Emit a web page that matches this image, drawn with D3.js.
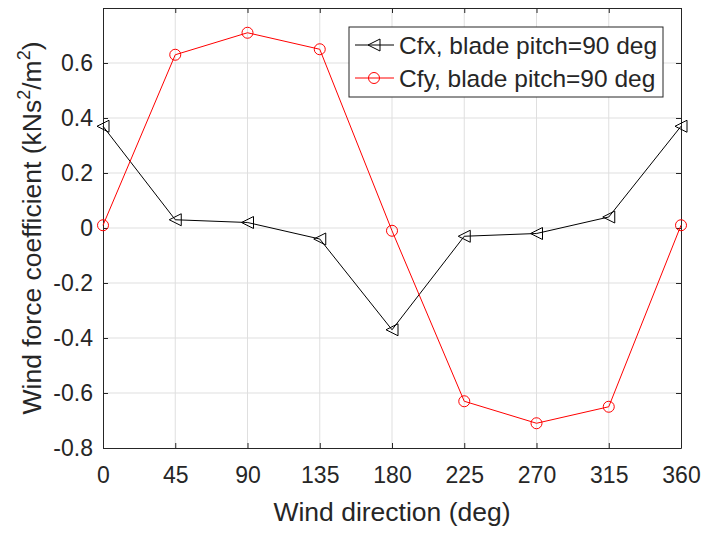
<!DOCTYPE html>
<html>
<head>
<meta charset="utf-8">
<script src="https://cdn.jsdelivr.net/npm/d3@7"></script>
<style>
  body { margin: 0; background: #fff; }
  text { font-family: "Liberation Sans", Arial, Helvetica, sans-serif; fill: #262626; }
  .grid line { stroke: #dfdfdf; stroke-width: 1; }
</style>
</head>
<body>
<svg id="mainFrame"></svg>
<script>
const directions = [0, 45, 90, 135, 180, 225, 270, 315, 360]
const cfxValues = [0.37, 0.03, 0.02, -0.04, -0.37, -0.03, -0.02, 0.04, 0.37]
const cfyValues = [0.01, 0.63, 0.71, 0.65, -0.01, -0.63, -0.71, -0.65, 0.01]
const yTicks = [-0.8, -0.6, -0.4, -0.2, 0, 0.2, 0.4, 0.6]
const seriesNames = ['Cfx, blade pitch=90 deg', 'Cfy, blade pitch=90 deg']

const width = 705, height = 533
const svg = d3.select('#mainFrame')
    .attr('width', width)
    .attr('height', height)

const margin = { top: 8, right: 24, bottom: 85, left: 103 }
const innerW = width - margin.left - margin.right
const innerH = height - margin.top - margin.bottom

const g = svg.append('g')
    .attr('transform', `translate(${margin.left},${margin.top})`)

const xScale = d3.scaleLinear().domain([0, 360]).range([0, innerW])
const yScale = d3.scaleLinear().domain([-0.8, 0.8]).range([innerH, 0])

// grid
const grid = g.append('g').attr('class', 'grid')
grid.selectAll('.gx').data(directions.slice(1, -1)).join('line')
    .attr('x1', d => xScale(d)).attr('x2', d => xScale(d))
    .attr('y1', 0).attr('y2', innerH)
grid.selectAll('.gy').data(yTicks.slice(1)).join('line')
    .attr('class', 'gy')
    .attr('x1', 0).attr('x2', innerW)
    .attr('y1', d => yScale(d)).attr('y2', d => yScale(d))

// axes (ticks pointing in, MATLAB style)
const fmt = d => d === 0 ? '0' : d3.format('.1f')(d).replace('−', '-')
const styleAxis = sel => {
    sel.selectAll('.domain').attr('stroke', '#262626')
    sel.selectAll('.tick line').attr('stroke', '#262626')
    sel.selectAll('.tick text').style('font-size', '23px').attr('fill', '#262626')
}
g.append('g').attr('transform', `translate(0,${innerH})`)
    .call(d3.axisBottom(xScale).tickValues(directions).tickSize(-5).tickPadding(19).tickSizeOuter(0))
    .call(styleAxis)
g.append('g')
    .call(d3.axisTop(xScale).tickValues(directions).tickSize(-5).tickFormat('').tickSizeOuter(0))
    .call(styleAxis)
g.append('g')
    .call(d3.axisLeft(yScale).tickValues(yTicks).tickSize(-5).tickPadding(10).tickFormat(fmt).tickSizeOuter(0))
    .call(styleAxis)
g.append('g').attr('transform', `translate(${innerW},0)`)
    .call(d3.axisRight(yScale).tickValues(yTicks).tickSize(-5).tickFormat('').tickSizeOuter(0))
    .call(styleAxis)

// lines
const line = d3.line().x((d, i) => xScale(directions[i])).y(d => yScale(d))
const triangle = 'M-6,0L6,-6L6,6Z'

g.append('path').datum(cfxValues)
    .attr('d', line).attr('fill', 'none').attr('stroke', '#000').attr('stroke-width', 1)
g.append('path').datum(cfyValues)
    .attr('d', line).attr('fill', 'none').attr('stroke', '#ff0000').attr('stroke-width', 1)

g.selectAll('.mx').data(cfxValues).join('path')
    .attr('class', 'mx')
    .attr('transform', (d, i) => `translate(${xScale(directions[i])},${yScale(d)})`)
    .attr('d', triangle).attr('fill', 'none').attr('stroke', '#000')
g.selectAll('.my').data(cfyValues).join('circle')
    .attr('class', 'my')
    .attr('cx', (d, i) => xScale(directions[i])).attr('cy', d => yScale(d))
    .attr('r', 5.5).attr('fill', 'none').attr('stroke', '#ff0000')

// legend
const legend = svg.append('g').attr('transform', 'translate(349,27)')
legend.append('rect').attr('width', 314).attr('height', 70)
    .attr('fill', '#fff').attr('stroke', '#262626').attr('stroke-width', 1)
const legendColors = ['#000', '#ff0000']
seriesNames.forEach((name, i) => {
    const y = 18 + i * 33
    legend.append('line').attr('x1', 6).attr('x2', 45).attr('y1', y).attr('y2', y)
        .attr('stroke', legendColors[i])
    if (i === 0) {
        legend.append('path').attr('d', triangle)
            .attr('transform', `translate(25,${y})`)
            .attr('fill', 'none').attr('stroke', legendColors[i])
    } else {
        legend.append('circle').attr('cx', 25).attr('cy', y).attr('r', 5.5)
            .attr('fill', 'none').attr('stroke', legendColors[i])
    }
    legend.append('text').attr('x', 50).attr('y', y + 8.5)
        .style('font-size', '24.5px').attr('fill', '#000').text(name)
})

// axis titles
svg.append('text')
    .attr('x', margin.left + innerW / 2).attr('y', 521)
    .attr('text-anchor', 'middle').style('font-size', '26.5px')
    .text('Wind direction (deg)')

const yTitle = svg.append('text')
    .attr('transform', `translate(41,${margin.top + innerH / 2}) rotate(-90)`)
    .attr('text-anchor', 'middle').style('font-size', '26.5px')
yTitle.append('tspan').text('Wind force coefficient (kNs')
yTitle.append('tspan').attr('dy', -11).style('font-size', '18px').text('2')
yTitle.append('tspan').attr('dy', 11).text('/m')
yTitle.append('tspan').attr('dy', -11).style('font-size', '18px').text('2')
yTitle.append('tspan').attr('dy', 11).text(')')
</script>
</body>
</html>
